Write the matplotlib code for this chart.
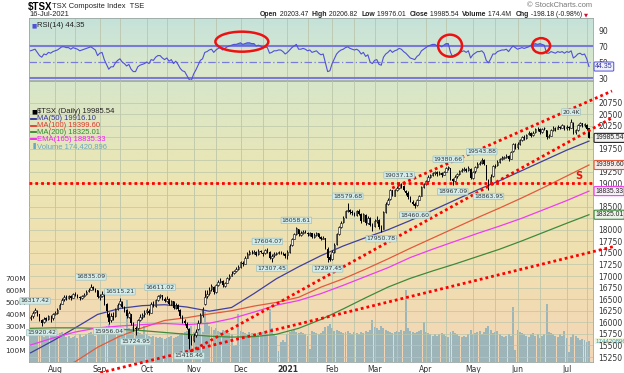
import numpy as np
import pandas as pd
import matplotlib.pyplot as plt
import matplotlib.transforms as mtransforms
from matplotlib.colors import LinearSegmentedColormap
from matplotlib.patches import Ellipse

# TSX trading days shown on the chart
holidays = ['2020-08-03', '2020-09-07', '2020-10-12', '2020-12-25', '2020-12-28',
            '2021-01-01', '2021-02-15', '2021-04-02', '2021-05-24', '2021-07-01']
dates = pd.bdate_range('2020-07-17', '2021-07-16', freq='C', holidays=holidays)

# daily candles, one row per month (Jul 2020 .. Jul 2021)
opens = [
    16090, 16130, 16230, 16250, 16170, 16050, 16010, 16090, 16070, 16120, 16090,
    16180, 16210, 16290, 16400, 16500, 16560, 16530, 16570, 16530, 16620, 16590, 16550, 16520, 16570, 16610, 16670, 16700, 16770, 16720, 16690,
    16550, 16570, 16610, 16390, 16180, 16050, 16140, 16130, 16290, 16390, 16440, 16330, 16260, 16120, 16170, 15990, 15880, 15870, 16060, 16110, 16170,
    16220, 16250, 16210, 16410, 16360, 16490, 16560, 16590, 16500, 16450, 16500, 16390, 16450, 16310, 16370, 16260, 16120, 16030, 15970, 15860, 15650,
    15620, 15720, 15850, 16000, 16160, 16400, 16560, 16630, 16720, 16760, 16660, 16800, 16880, 16900, 16790, 16860, 16950, 17010, 17060, 17110, 17160,
    17200, 17290, 17270, 17400, 17480, 17520, 17500, 17530, 17470, 17550, 17500, 17490, 17560, 17530, 17390, 17450, 17480, 17500, 17520, 17500, 17480,
    17450, 17520, 17660, 17810, 17910, 18020, 17890, 17940, 17970, 17940, 17890, 17920, 17840, 17890, 17930, 17840, 17800, 17820, 17590, 17420,
    17360, 17530, 17700, 17910, 18060, 18160, 18270, 18410, 18420, 18390, 18360, 18320, 18410, 18340, 18190, 18320, 18150, 18260, 18090,
    18080, 18190, 18210, 18040, 18020, 18390, 18560, 18660, 18850, 18740, 18860, 18900, 18980, 18940, 18840, 18790, 18700, 18600, 18560, 18530, 18650, 18730, 18930,
    18990, 19060, 19150, 19190, 19220, 19240, 19200, 19230, 19190, 19250, 19330, 19340, 19100, 19050, 19160, 19200, 19260, 19300, 19320, 19290, 19320,
    19120, 19260, 19360, 19430, 19450, 19500, 19400, 19080, 19010, 19160, 19380, 19390, 19470, 19530, 19560, 19580, 19600, 19530, 19700, 19850,
    19780, 19860, 19940, 20010, 19990, 20060, 20100, 20040, 20110, 20180, 20170, 20110, 20190, 20150, 20010, 20030, 20160, 20200, 20180, 20230, 20200, 20250,
    20190, 20230, 20210, 20300, 20110, 20160, 20260, 20300, 20260, 20270, 20203.47,
]
highs = [
    16160, 16240, 16317.42, 16260, 16190, 16070, 16110, 16110, 16160, 16150, 16200,
    16240, 16300, 16410, 16520, 16580, 16590, 16600, 16580, 16640, 16650, 16610, 16570, 16590, 16630, 16690, 16740, 16835.09, 16790, 16740, 16700,
    16620, 16680, 16640, 16420, 16220, 16200, 16220, 16310, 16420, 16515.21, 16470, 16360, 16290, 16250, 16190, 16010, 15920, 16080, 16170, 16210, 16260,
    16310, 16290, 16430, 16450, 16510, 16590, 16611.02, 16600, 16540, 16560, 16520, 16490, 16470, 16410, 16400, 16290, 16160, 16070, 16000, 15880, 15720,
    15760, 15850, 16040, 16200, 16320, 16700, 16690, 16760, 16820, 16780, 16830, 16910, 16950, 16920, 16880, 16980, 17050, 17100, 17140, 17190, 17230,
    17330, 17320, 17430, 17510, 17560, 17560, 17560, 17540, 17580, 17570, 17530, 17580, 17604.07, 17540, 17470, 17510, 17530, 17550, 17540, 17520, 17500,
    17560, 17690, 17830, 17930, 18058.61, 18020, 17970, 17990, 18000, 17960, 17950, 17930, 17920, 17950, 17940, 17870, 17860, 17830, 17620, 17480,
    17560, 17720, 17930, 18080, 18180, 18290, 18430, 18579.68, 18440, 18420, 18390, 18430, 18440, 18360, 18360, 18350, 18300, 18280, 18150,
    18230, 18300, 18240, 18110, 18400, 18590, 18690, 18880, 18870, 18880, 18950, 19037.13, 19010, 18960, 18870, 18830, 18720, 18640, 18600, 18670, 18760, 18950, 19010,
    19080, 19180, 19210, 19250, 19270, 19260, 19260, 19240, 19280, 19350, 19380.66, 19340, 19120, 19180, 19230, 19290, 19330, 19350, 19340, 19370, 19330,
    19280, 19380, 19460, 19480, 19543.88, 19520, 19410, 19100, 19200, 19400, 19420, 19500, 19560, 19590, 19600, 19640, 19620, 19710, 19880, 19870,
    19890, 19960, 20030, 20040, 20080, 20130, 20110, 20130, 20210, 20220, 20190, 20210, 20230, 20160, 20060, 20180, 20240, 20220, 20260, 20250, 20290, 20260,
    20260, 20250, 20400, 20320, 20180, 20290, 20330, 20310, 20310, 20290, 20206.82,
]
lows = [
    16040, 16100, 16200, 16130, 16030, 15920.42, 15990, 16020, 16050, 16010, 16050,
    16150, 16190, 16280, 16390, 16470, 16490, 16510, 16490, 16520, 16560, 16520, 16480, 16500, 16550, 16600, 16650, 16690, 16700, 16650, 16520,
    16490, 16540, 16380, 16120, 15956.04, 16010, 16060, 16110, 16260, 16370, 16300, 16220, 16100, 16090, 15950, 15810, 15724.95, 15850, 16020, 16080, 16120,
    16190, 16150, 16200, 16320, 16340, 16460, 16530, 16490, 16430, 16430, 16380, 16380, 16280, 16290, 16250, 16100, 15990, 15940, 15850, 15418.46, 15500,
    15580, 15680, 15830, 15980, 16120, 16380, 16520, 16600, 16680, 16610, 16640, 16780, 16850, 16760, 16760, 16840, 16920, 16990, 17040, 17090, 17120,
    17180, 17220, 17250, 17380, 17460, 17470, 17480, 17440, 17450, 17490, 17440, 17480, 17500, 17360, 17307.45, 17420, 17460, 17480, 17480, 17460, 17400,
    17370, 17500, 17640, 17790, 17890, 17870, 17870, 17900, 17920, 17870, 17860, 17820, 17820, 17870, 17830, 17770, 17790, 17580, 17297.45, 17320,
    17340, 17500, 17680, 17890, 18040, 18140, 18250, 18380, 18340, 18320, 18290, 18300, 18310, 18150, 18180, 18110, 18130, 18080, 17980,
    18060, 18150, 18020, 17950.78, 18010, 18370, 18530, 18640, 18720, 18730, 18840, 18880, 18910, 18830, 18760, 18670, 18590, 18530, 18460.60, 18520, 18640, 18720, 18910,
    18970, 19030, 19120, 19160, 19190, 19170, 19180, 19150, 19180, 19240, 19300, 19080, 18967.09, 19030, 19120, 19180, 19240, 19270, 19250, 19270, 19090,
    19100, 19230, 19340, 19400, 19430, 19400, 19080, 18863.95, 18990, 19150, 19330, 19380, 19450, 19500, 19520, 19550, 19480, 19520, 19690, 19740,
    19750, 19840, 19920, 19950, 19970, 20040, 20000, 20020, 20090, 20130, 20080, 20100, 20160, 19960, 19980, 20020, 20130, 20140, 20170, 20170, 20190, 20150,
    20160, 20150, 20190, 20060, 20070, 20140, 20240, 20220, 20220, 20160, 19976.01,
]
closes = [
    16120, 16210, 16270, 16170, 16060, 15990, 16080, 16060, 16130, 16110, 16170,
    16200, 16270, 16380, 16490, 16540, 16530, 16560, 16520, 16610, 16580, 16560, 16520, 16560, 16600, 16660, 16700, 16760, 16720, 16680, 16540,
    16560, 16620, 16400, 16240, 16010, 16130, 16110, 16280, 16380, 16450, 16330, 16270, 16140, 16200, 15980, 15870, 15860, 16050, 16120, 16160, 16200,
    16270, 16200, 16400, 16350, 16480, 16560, 16580, 16510, 16460, 16510, 16400, 16460, 16300, 16380, 16280, 16130, 16020, 15980, 15880, 15640, 15580,
    15700, 15800, 15990, 16150, 16280, 16550, 16620, 16700, 16780, 16650, 16800, 16870, 16900, 16800, 16850, 16950, 17000, 17050, 17100, 17150, 17190,
    17300, 17260, 17400, 17480, 17520, 17510, 17530, 17460, 17550, 17510, 17480, 17560, 17540, 17400, 17440, 17480, 17500, 17520, 17510, 17490, 17430,
    17530, 17650, 17800, 17900, 18040, 17900, 17930, 17960, 17950, 17900, 17920, 17850, 17890, 17920, 17850, 17810, 17830, 17600, 17400, 17340,
    17520, 17680, 17900, 18050, 18150, 18260, 18400, 18420, 18380, 18360, 18320, 18400, 18350, 18200, 18330, 18150, 18250, 18100, 18060,
    18180, 18220, 18050, 18000, 18380, 18560, 18650, 18850, 18750, 18850, 18900, 18980, 18950, 18850, 18800, 18700, 18610, 18560, 18520, 18640, 18720, 18920, 18990,
    19050, 19150, 19180, 19220, 19240, 19200, 19230, 19190, 19250, 19330, 19350, 19100, 19050, 19150, 19200, 19260, 19300, 19320, 19280, 19330, 19110,
    19250, 19350, 19430, 19440, 19500, 19420, 19100, 19000, 19150, 19370, 19380, 19470, 19530, 19560, 19570, 19600, 19520, 19690, 19850, 19760,
    19850, 19930, 20010, 19980, 20050, 20100, 20030, 20100, 20180, 20170, 20110, 20180, 20200, 20000, 20020, 20150, 20200, 20170, 20230, 20200, 20260, 20180,
    20230, 20200, 20320, 20100, 20150, 20260, 20300, 20250, 20280, 20183.72, 19985.54,
]
# daily volume, millions of shares
volume_m = [
    240, 230, 250, 240, 235, 245, 210, 220, 230, 250, 270,
    230, 220, 240, 250, 230, 210, 220, 200, 210, 220, 200, 230, 210, 220, 230, 240, 250, 230, 220, 290,
    250, 260, 290, 300, 320, 270, 250, 240, 230, 250, 240, 230, 520, 280, 270, 290, 260, 250, 240, 230, 300,
    230, 220, 210, 220, 210, 200, 210, 200, 190, 200, 210, 220, 200, 210, 220, 230, 240, 250, 260, 280, 300,
    250, 260, 270, 280, 250, 420, 330, 300, 290, 270, 280, 260, 250, 270, 260, 250, 240, 230, 130, 140, 400,
    260, 250, 240, 230, 250, 240, 230, 220, 240, 230, 250, 260, 230, 440, 280, 230, 220, 90, 170, 180, 170,
    230, 250, 260, 270, 250, 240, 250, 240, 230, 220, 110, 260, 250, 240, 230, 240, 260, 290, 300, 320,
    280, 260, 270, 260, 250, 240, 250, 260, 240, 230, 250, 240, 230, 250, 240, 260, 250, 270, 350,
    290, 280, 270, 300, 280, 270, 260, 250, 240, 250, 260, 250, 270, 260, 600, 280, 260, 250, 240, 250, 260, 270, 330,
    250, 240, 230, 220, 230, 220, 230, 240, 230, 220, 210, 250, 260, 240, 230, 220, 210, 220, 210, 230, 270,
    230, 240, 250, 260, 230, 250, 280, 300, 270, 240, 250, 260, 230, 220, 210, 220, 230, 220, 460, 100,
    270, 250, 240, 230, 220, 210, 230, 240, 220, 230, 200, 220, 230, 480, 250, 240, 230, 220, 210, 230, 220, 260,
    200, 80, 210, 230, 220, 200, 180, 190, 180, 170, 174.42,
]
rsi = [
    64, 65, 66, 62, 58, 56, 60, 59, 62, 61, 63,
    64, 65, 67, 69, 69, 68, 68, 66, 68, 67, 66, 64, 65, 66, 67, 68, 69, 67, 65, 58,
    61, 62, 53, 47, 41, 44, 44, 49, 52, 54, 50, 48, 45, 47, 41, 38, 38, 44, 46, 47, 48,
    50, 48, 53, 52, 56, 58, 58, 55, 53, 55, 51, 53, 48, 51, 47, 42, 39, 38, 33, 28, 27,
    35, 40, 46, 52, 54, 62, 63, 65, 66, 62, 65, 67, 68, 65, 67, 69, 70, 71, 72, 72, 73,
    74, 72, 73, 74, 74, 73, 73, 70, 71, 70, 68, 69, 68, 61, 62, 64, 64, 65, 65, 63, 60,
    62, 65, 68, 70, 72, 66, 66, 67, 66, 64, 65, 62, 63, 64, 61, 59, 60, 49, 38, 39,
    48, 54, 60, 63, 65, 66, 68, 69, 67, 66, 65, 66, 64, 60, 62, 57, 59, 50, 48,
    52, 53, 47, 46, 56, 60, 62, 65, 62, 64, 65, 67, 66, 63, 61, 58, 55, 54, 53, 57, 59, 64, 66,
    68, 70, 71, 72, 72, 70, 71, 69, 71, 73, 73, 62, 56, 59, 60, 62, 63, 64, 62, 64, 55,
    59, 61, 63, 63, 64, 61, 52, 49, 54, 60, 60, 63, 64, 65, 65, 66, 63, 67, 70, 68,
    66, 67, 68, 67, 68, 69, 71, 72, 73, 72, 73, 72, 71, 61, 61, 63, 62, 61, 63, 62, 63, 61,
    63, 62, 64, 55, 57, 60, 61, 59, 60, 54, 44.35,
]

# moving averages read every 10 trading days
ma_days = [0, 10, 20, 30, 40, 50, 60, 70, 80, 90, 100, 110, 120, 130, 140, 150, 160, 170, 180, 190, 200, 210, 220, 230, 240, 250]
ma50 = [15340, 15600, 15880, 16170, 16300, 16360, 16380, 16330, 16240, 16320, 16620, 16940, 17200, 17440, 17650, 17830,
        18000, 18200, 18420, 18640, 18860, 19060, 19280, 19500, 19720, 19916.10]
ma100 = [14700, 14930, 15150, 15460, 15700, 15880, 16040, 16100, 16180, 16250, 16350, 16430, 16540, 16760, 16940, 17150,
         17370, 17600, 17820, 18040, 18260, 18470, 18690, 18920, 19160, 19399.60]
ma200 = [15870, 15880, 15880, 15870, 15850, 15820, 15780, 15740, 15700, 15680, 15690, 15740, 15870, 16060, 16290, 16530,
         16760, 16950, 17110, 17260, 17420, 17580, 17760, 17950, 18140, 18325.01]
ema165 = [15510, 15660, 15790, 15880, 15920, 15950, 15975, 15950, 15980, 16080, 16220, 16370, 16470, 16620, 16800, 16990,
          17180, 17400, 17580, 17750, 17920, 18080, 18250, 18440, 18630, 18835.33]

# StockCharts peak/trough labels: (date, text, high or low)
peak_labels = [
    ('2020-07-21', '16317.42', 'H'), ('2020-07-24', '15920.42', 'L'), ('2020-08-26', '16835.09', 'H'),
    ('2020-09-08', '15956.04', 'L'), ('2020-09-15', '16515.21', 'H'), ('2020-09-24', '15724.95', 'L'),
    ('2020-10-09', '16611.02', 'H'), ('2020-10-29', '15418.46', 'L'), ('2020-12-17', '17604.07', 'H'),
    ('2020-12-21', '17307.45', 'L'), ('2021-01-08', '18058.61', 'H'), ('2021-01-28', '17297.45', 'L'),
    ('2021-02-10', '18579.68', 'H'), ('2021-03-04', '17950.78', 'L'), ('2021-03-16', '19037.13', 'H'),
    ('2021-03-25', '18460.60', 'L'), ('2021-04-16', '19380.66', 'H'), ('2021-04-20', '18967.09', 'L'),
    ('2021-05-07', '19543.88', 'H'), ('2021-05-12', '18863.95', 'L'), ('2021-07-06', '20.4K', 'H'),
]

# hand-drawn red dotted lines: (day index, price) end points
trend_lines = [
    ((-0.7, 19000), (251.8, 19000)),
    ((161.9, 18902), (260.3, 20999)),
    ((71.4, 15362), (260.3, 20418)),
    ((31.2, 14909), (260.8, 17634)),
]
# red circles on RSI: (centre day, centre rsi, width days, height rsi)
rsi_circles = [(94.6, 75.4, 23.7, 25), (187.8, 70.4, 10.7, 27.5), (228.6, 70.4, 8.0, 18.8)]

# ---------------------------------------------------------------
W, H = 624, 373
fig = plt.figure(figsize=(W / 100, H / 100), dpi=100)
plt.rcParams['font.family'] = 'DejaVu Sans'
NARROW = 'Liberation Sans'


def rect(x0, y0, x1, y1):
    return [x0 / W, 1 - y1 / H, (x1 - x0) / W, (y1 - y0) / H]


def gradient(a, colors):
    cmap = LinearSegmentedColormap.from_list('bg', colors)
    a.imshow(np.linspace(0, 1, 256).reshape(-1, 1), cmap=cmap, extent=[0, 1, 0, 1],
             transform=a.transAxes, aspect='auto', zorder=-10)


ax_r = fig.add_axes(rect(29, 18, 593, 80))
ax_v = fig.add_axes(rect(29, 81, 593, 362))
ax = fig.add_axes(rect(29, 81, 593, 362))
ax.patch.set_alpha(0)

gradient(ax_r, ['#c4e2da', '#d3e6d2', '#dfe9c9'])
gradient(ax_v, ['#d7e6ca', '#ebe6b4', '#f1dfb0', '#f3d6b8'])

x = np.arange(len(dates))
xlim = (-0.7, 251.8)
month_starts = [i for i in range(1, len(dates)) if dates[i].month != dates[i - 1].month]
mid_months = [i for i in range(1, len(dates)) if dates[i].day >= 15 and dates[i - 1].day < 15]
grid_c = '#bcc6aa'

# ---- RSI panel
ax_r.plot(x, rsi, color='#5050d8', lw=0.8, zorder=4)
r = np.array(rsi, dtype=float)
ax_r.fill_between(x, 70, r, where=r > 70, color='#4a6ee0', alpha=0.75, lw=0, zorder=3, interpolate=True)
ax_r.axhline(70, color='#7a7ad8', lw=1.5, zorder=2)
ax_r.axhline(30, color='#7a7ad8', lw=1.5, zorder=2)
ax_r.axhline(50, color='#7a7ad8', lw=0.9, ls=(0, (6, 2, 1, 2)), zorder=2)
for cx, cy, w, h in rsi_circles:
    ax_r.add_patch(Ellipse((cx, cy), w, h, fill=False, ec='#ee1111', lw=1.8, zorder=6, clip_on=False))
ax_r.set_xlim(*xlim)
ax_r.set_ylim(27.5, 105)
ax_r.set_xticks(month_starts)
ax_r.set_xticks(mid_months, minor=True)
ax_r.grid(axis='x', which='both', color=grid_c, lw=0.6)
ax_r.set_xticklabels([])
ax_r.yaxis.tick_right()
ax_r.set_yticks([30, 50, 70, 90])
ax_r.tick_params(axis='both', which='both', length=0, labelsize=5.5, labelcolor='#333333', pad=4)
for s in ax_r.spines.values():
    s.set_color('#9aa6a0')
    s.set_linewidth(0.6)
ax_r.annotate('44.35', xy=(1, rsi[-1]), xycoords=('axes fraction', 'data'), xytext=(1.5, 0),
              textcoords='offset points', ha='left', va='center', fontsize=5, family=NARROW, color='#333399',
              bbox=dict(boxstyle='round,pad=0.15', fc='#eef0fa', ec='#5050d8', lw=0.7), annotation_clip=False)
ax_r.text(0.004, 0.88, '\u25A0', transform=ax_r.transAxes, fontsize=4, color='#5050d8', va='center')
ax_r.text(0.015, 0.88, 'RSI(14) 44.35', transform=ax_r.transAxes, fontsize=5.5, family=NARROW,
          color='#222222', va='center')

# ---- volume (behind prices)
ax_v.bar(x, np.array(volume_m) * 1e6, width=0.88, color='#8eb0ba', alpha=0.85, lw=0, zorder=2)
ax_v.set_xlim(*xlim)
ax_v.set_ylim(0, 2342e6)
ax_v.set_yticks([1e8, 2e8, 3e8, 4e8, 5e8, 6e8, 7e8])
ax_v.set_yticklabels(['100M', '200M', '300M', '400M', '500M', '600M', '700M'])
ax_v.set_xticks([])
ax_v.tick_params(axis='y', length=0, labelsize=5.3, labelcolor='#333333', pad=2)
for s in ax_v.spines.values():
    s.set_color('#9aa6a0')
    s.set_linewidth(0.6)

# ---- price panel
o, h, l, c = (np.array(v, dtype=float) for v in (opens, highs, lows, closes))
ax.vlines(x, l, h, color='black', lw=0.7, zorder=5)
up = c >= o
ax.bar(x[~up], (o - c)[~up], bottom=c[~up], width=0.65, color='black', lw=0, zorder=6)
ax.bar(x[up], np.maximum((c - o)[up], 8), bottom=o[up], width=0.65, facecolor='#f4f4f4',
       edgecolor='black', lw=0.4, zorder=6)

ax.plot(ma_days, ma50, color='#40409c', lw=0.9, zorder=4)
ax.plot(ma_days, ma100, color='#e25a3c', lw=0.9, zorder=4)
ax.plot(ma_days, ma200, color='#3f8a3a', lw=0.9, zorder=4)
ax.plot(ma_days, ema165, color='#f03cf0', lw=0.9, zorder=4)

for (x0, y0), (x1, y1) in trend_lines:
    ax.plot([x0, x1], [y0, y1], color='#ff0000', lw=2.0, ls=(0, (1, 1.1)), zorder=7,
            clip_on=(y0 == y1), solid_capstyle='butt')
ax.text(245.3, 19162, 'S', color='#ee1111', fontsize=7, fontweight='bold', ha='center', va='center', zorder=8)

for d, txt, kind in peak_labels:
    i = dates.get_loc(pd.Timestamp(d))
    yv, off, va = (h[i], 3, 'bottom') if kind == 'H' else (l[i], -3, 'top')
    ax.annotate(txt, (i, yv), xytext=(0, off), textcoords='offset points', ha='center', va=va,
                fontsize=4.4, color='#333333', zorder=9,
                bbox=dict(boxstyle='round,pad=0.12', fc='#d3ecea', ec='#9cbfbf', lw=0.5))

ax.set_xlim(*xlim)
ax.set_ylim(15142, 21215)
price_ticks = np.arange(15250, 20751, 250)
hidden = {20000, 19500, 18750, 18250}
ax.yaxis.tick_right()
ax.set_yticks(price_ticks)
ax.set_yticklabels(['' if t in hidden else f'{t}' for t in price_ticks])
ax.grid(axis='y', color=grid_c, lw=0.5, zorder=0)
ax.set_xticks(month_starts)
ax.set_xticks(mid_months, minor=True)
ax.grid(axis='x', which='both', color=grid_c, lw=0.6, zorder=0)
ax.set_xticklabels(['2021' if dates[i].month == 1 else dates[i].strftime('%b') for i in month_starts])
for t in ax.get_xticklabels():
    if t.get_text() == '2021':
        t.set_fontweight('bold')
ax.tick_params(axis='both', which='both', length=0, labelsize=5.5, labelcolor='#333333')
ax.tick_params(axis='y', pad=4)
ax.tick_params(axis='x', pad=2)
for s in ax.spines.values():
    s.set_visible(False)

# value boxes on the right edge
boxes = [(closes[-1], '19985.54', '#222222', '#f2f2f2'), (ma100[-1], '19399.60', '#e25a3c', '#f6eeee'),
         (ema165[-1], '18835.33', '#f03cf0', '#f8eef8'), (ma200[-1], '18325.01', '#3f8a3a', '#eef4ec')]
for v, txt, ec, fc in boxes:
    ax.annotate(txt, xy=(1, v), xycoords=('axes fraction', 'data'), xytext=(1.5, 0), textcoords='offset points',
                ha='left', va='center', fontsize=4.9, family=NARROW, color='#222222', zorder=10,
                annotation_clip=False, bbox=dict(boxstyle='round,pad=0.15', fc=fc, ec=ec, lw=0.8))
ax_v.annotate('174420896', xy=(1, volume_m[-1] * 1e6), xycoords=('axes fraction', 'data'), xytext=(1.5, 0),
              textcoords='offset points', ha='left', va='center', fontsize=4.4, family=NARROW, color='#3a9ab8',
              annotation_clip=False, bbox=dict(boxstyle='round,pad=0.08', fc='#eef6dc', ec='none'))

# legend inside the price panel
legend = [('$TSX (Daily) 19985.54', '#222222'), ('MA(50) 19916.10', '#33339a'),
          ('MA(100) 19399.60', '#e03a2a'), ('MA(200) 18325.01', '#2e8a2e'),
          ('EMA(165) 18835.33', '#f020f0'), ('Volume 174,420,896', '#6aa6be')]
tr = mtransforms.IdentityTransform()
for k, (txt, col) in enumerate(legend):
    yy = H - (111.7 + k * 6.9)
    if k == 0:
        fig.text(31, yy, '\u25A0', transform=tr, fontsize=4.5, color='black', va='center')
    elif k == 5:
        fig.text(31, yy, '\u2590', transform=tr, fontsize=4.5, color=col, va='center')
    else:
        fig.lines.append(plt.Line2D([30.5, 36], [yy, yy], transform=tr, color=col, lw=1.3))
    fig.text(37, yy, txt, transform=tr, fontsize=5.5, family=NARROW, color=col, va='center')

# header
fig.text(28, H - 7, '$TSX', transform=tr, fontsize=7, fontweight='bold', family=NARROW, va='center')
fig.text(52, H - 7, 'TSX Composite Index  TSE', transform=tr, fontsize=5.4, family=NARROW,
         va='center', color='#222222')
fig.text(29, H - 15, '16-Jul-2021', transform=tr, fontsize=5.4, family=NARROW, va='center', color='#222222')
fig.text(592, H - 5.5, '\u00a9 StockCharts.com', transform=tr, fontsize=5.4, family=NARROW,
         va='center', ha='right', color='#777777')

renderer = fig.canvas.get_renderer()
parts = [('Open', True), (' 20203.47  ', False), ('High', True), (' 20206.82  ', False), ('Low', True),
         (' 19976.01  ', False), ('Close', True), (' 19985.54  ', False), ('Volume', True), (' 174.4M  ', False),
         ('Chg', True), (' -198.18 (-0.98%)', False)]
texts = []
for s, b in parts:
    texts.append(fig.text(0, H - 15, s, transform=tr, fontsize=5.4, family=NARROW, va='center',
                          color='#222222', fontweight='bold' if b else 'normal'))
widths = [t.get_window_extent(renderer).width for t in texts]
scale = 327 / sum(widths)
for t in texts:
    t.set_fontsize(5.4 * scale)
widths = [t.get_window_extent(renderer).width for t in texts]
xx = 260
for t, w in zip(texts, widths):
    t.set_x(xx)
    xx += w
fig.text(xx + 2, H - 15, '\u25BC', transform=tr, fontsize=3.8, va='center', color='#cc1133')

fig.savefig('out.png', dpi=100)
